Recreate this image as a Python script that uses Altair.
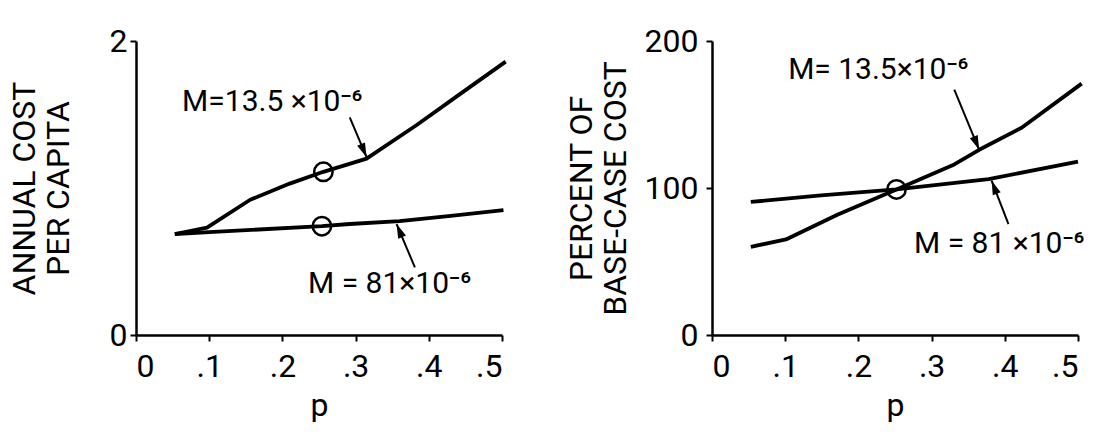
import math
import altair as alt
import pandas as pd

# ---------------- data ----------------
# Left panel: annual cost per capita
left_p_13 = [0.053, 0.097, 0.156, 0.21, 0.256, 0.315, 0.384, 0.443, 0.505]
left_v_13 = [0.687, 0.73, 0.92, 1.03, 1.11, 1.20, 1.43, 1.64, 1.86]
left_p_81 = [0.053, 0.10, 0.254, 0.292, 0.36, 0.43, 0.502]
left_v_81 = [0.687, 0.70, 0.74, 0.755, 0.775, 0.81, 0.85]
left_circle_p = [0.256, 0.254]
left_circle_v = [1.11, 0.74]

# Right panel: percent of base-case cost
right_p_13 = [0.053, 0.101, 0.172, 0.252, 0.331, 0.365, 0.423, 0.505]
right_v_13 = [60, 65, 82, 99, 116, 126, 141, 171]
right_p_81 = [0.053, 0.149, 0.252, 0.378, 0.50]
right_v_81 = [90.5, 95, 99, 106, 118]
right_circle_p = [0.252]
right_circle_v = [99]

# annotation texts and anchor points (data coordinates)
left_label_text = ["M=13.5 ×10⁻⁶", "M = 81×10⁻⁶"]
left_label_p = [0.063, 0.235]
left_label_v = [1.585, 0.347]
right_label_text = ["M=  13.5×10⁻⁶", "M = 81  ×10⁻⁶"]
right_label_p = [0.104, 0.276]
right_label_v = [180, 62]

# arrows: start (p1, v1) -> tip (p2, v2)
left_arrow_p1 = [0.292, 0.381]
left_arrow_v1 = [1.48, 0.46]
left_arrow_p2 = [0.315, 0.356]
left_arrow_v2 = [1.21, 0.755]
right_arrow_p1 = [0.331, 0.405]
right_arrow_v1 = [167, 75.5]
right_arrow_p2 = [0.365, 0.382]
right_arrow_v2 = [126, 105]

x_ticks = [0, 0.1, 0.2, 0.3, 0.4, 0.5]
x_tick_labels = ["0", ".1", ".2", ".3", ".4", ".5"]
left_y_ticks = [0, 1, 2]
right_y_ticks = [0, 100, 200]

left_title = ["ANNUAL  COST", "PER  CAPITA"]
right_title = ["PERCENT  OF", "BASE-CASE COST"]

# ---------------- layout / style ----------------
W, H = 366, 294
FONT = "Roboto"
FS = 32
X_DOMAIN = [0, 0.5]
ARROW_PATH = "M0,0L-0.3,1L0.3,1Z"

x_label_expr = "[" + ",".join("'%s'" % s for s in x_tick_labels) + "][round(datum.value*10)]"


def panel(p13, v13, p81, v81, cp, cv, lab_t, lab_p, lab_v,
          a_p1, a_v1, a_p2, a_v2, y_domain, y_ticks, y_title, title_pad, label_pad):
    x_enc = alt.X("p:Q", scale=alt.Scale(domain=X_DOMAIN, nice=False, zero=False),
                  axis=alt.Axis(values=x_ticks, labelExpr=x_label_expr, title="p",
                                titlePadding=8, labelPadding=10))
    y_scale = alt.Scale(domain=y_domain, nice=False, zero=False)
    y_enc = alt.Y("v:Q", scale=y_scale,
                  axis=alt.Axis(values=y_ticks, format="d", title=y_title,
                                titlePadding=title_pad, labelPadding=label_pad))

    curves = pd.DataFrame(
        {"p": p13 + p81, "v": v13 + v81,
         "M": ["13.5"] * len(p13) + ["81"] * len(p81),
         "o": list(range(len(p13))) + list(range(len(p81)))})
    lines = alt.Chart(curves).mark_line(color="black", strokeWidth=3.8, clip=False,
                                        strokeJoin="round").encode(
        x=x_enc, y=y_enc, detail="M:N", order="o:Q")

    circ = alt.Chart(pd.DataFrame({"p": cp, "v": cv})).mark_point(
        shape="circle", size=340, filled=False, color="black", strokeWidth=2.5, opacity=1
    ).encode(x="p:Q", y="v:Q")

    labels = alt.Chart(pd.DataFrame({"p": lab_p, "v": lab_v, "t": lab_t})).mark_text(
        align="left", baseline="middle", font=FONT, fontSize=30, color="black"
    ).encode(x="p:Q", y="v:Q", text="t:N")

    # arrow heading in pixel space (clockwise from up)
    sx = W / (X_DOMAIN[1] - X_DOMAIN[0])
    sy = H / (y_domain[1] - y_domain[0])
    ang = []
    for p1, v1, p2, v2 in zip(a_p1, a_v1, a_p2, a_v2):
        dx = (p2 - p1) * sx
        dy = -(v2 - v1) * sy
        ang.append(math.degrees(math.atan2(dx, -dy)) % 360)
    arr = pd.DataFrame({"p": a_p1, "v": a_v1, "p2": a_p2, "v2": a_v2, "ang": ang})
    shafts = alt.Chart(arr).mark_rule(color="black", strokeWidth=2).encode(
        x="p:Q", y="v:Q", x2="p2:Q", y2="v2:Q")
    heads = alt.Chart(arr).mark_point(
        shape=ARROW_PATH, size=800, filled=True, color="black", opacity=1
    ).encode(x="p2:Q", y="v2:Q", angle=alt.Angle("ang:Q", scale=None))

    return alt.layer(lines, circ, shafts, heads, labels).properties(width=W, height=H)


left = panel(left_p_13, left_v_13, left_p_81, left_v_81, left_circle_p, left_circle_v,
             left_label_text, left_label_p, left_label_v,
             left_arrow_p1, left_arrow_v1, left_arrow_p2, left_arrow_v2,
             [0, 2], left_y_ticks, left_title, 34, 3)
right = panel(right_p_13, right_v_13, right_p_81, right_v_81, right_circle_p, right_circle_v,
              right_label_text, right_label_p, right_label_v,
              right_arrow_p1, right_arrow_v1, right_arrow_p2, right_arrow_v2,
              [0, 200], right_y_ticks, right_title, 12, 8)

chart = alt.hconcat(left, right, spacing=57).properties(
    padding={"left": 8, "top": 25, "right": 5, "bottom": 5},
    background="white"
).configure_view(stroke=None).configure_axis(
    grid=False, domainColor="black", domainWidth=2.5, tickColor="black", tickWidth=2,
    tickSize=6, labelFont=FONT, titleFont=FONT, labelFontSize=FS, titleFontSize=FS,
    labelColor="black", titleColor="black", titleFontWeight="normal", titleLineHeight=34
)

chart.save("out.html", embed_options={"renderer": "svg", "actions": False})
